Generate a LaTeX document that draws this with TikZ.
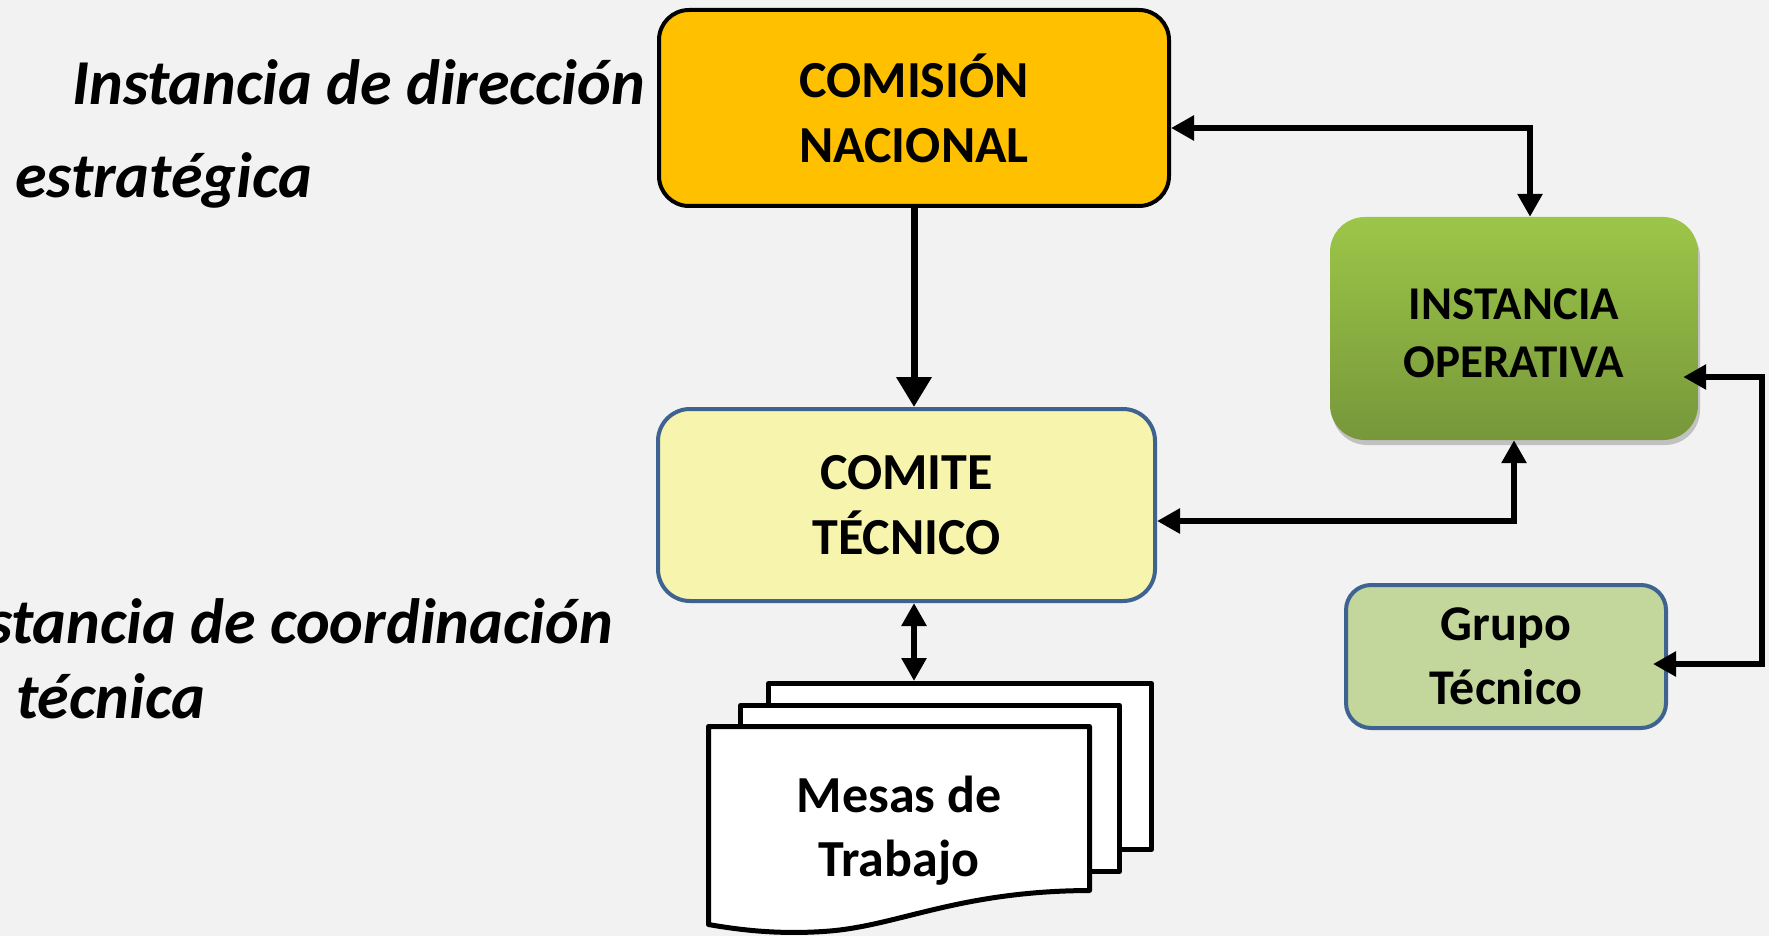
\documentclass[tikz,border=0pt]{standalone}
\usepackage{fontspec}
\setmainfont{Carlito}
\usetikzlibrary{arrows.meta,shadows,calc}
\definecolor{bg}{HTML}{F2F2F2}
\definecolor{comfill}{HTML}{FFC000}
\definecolor{ctfill}{HTML}{F6F4AD}
\definecolor{bluebord}{HTML}{3F6391}
\definecolor{gtfill}{HTML}{C3D69B}
\definecolor{greentop}{HTML}{9CC648}
\definecolor{greenbot}{HTML}{77973A}
\begin{document}
\begin{tikzpicture}[x=1pt,y=-1pt,
  >={Triangle[width=24pt,length=23pt]},
  arr/.style={line width=6.5pt,<->},
  box/.style={rectangle, inner sep=0pt, align=center},
  page/.style={draw=black, fill=white, line width=5pt, rectangle, inner sep=0pt, line join=round},
  lefttext/.style={inner sep=0pt, font=\fontsize{64}{70}\selectfont\bfseries\itshape}]
\fill[bg] (0,0) rectangle (1769,936);
\useasboundingbox (0,0) rectangle (1769,936);

% boxes
\node[box, draw=black, line width=4pt, fill=comfill, rounded corners=30pt,
      minimum width=510pt, minimum height=196pt,
      font=\fontsize{52}{65}\selectfont\bfseries] (com) at (914,108) {COMISIÓN\\NACIONAL};
\node[box, draw=bluebord, line width=4pt, fill=ctfill, rounded corners=32pt,
      minimum width=497pt, minimum height=192pt,
      font=\fontsize{52}{65}\selectfont\bfseries] (comite) at (906.5,505) {COMITE\\TÉCNICO};
\node[box, top color=greentop, bottom color=greenbot, rounded corners=35pt,
      minimum width=368pt, minimum height=223pt,
      drop shadow={shadow xshift=2pt, shadow yshift=-5pt, opacity=0.35, fill=black!60},
      font=\fontsize{47}{58}\selectfont\bfseries] (inst) at (1514,328.5) {\rule{0pt}{40pt}INSTANCIA\\OPERATIVA};
\node[box, draw=bluebord, line width=4pt, fill=gtfill, rounded corners=25pt,
      minimum width=320pt, minimum height=143pt,
      font=\fontsize{50}{64}\selectfont\bfseries] (grupo) at (1506,656.5) {Grupo\\Técnico};

% stacked pages
\node[page, minimum width=383pt, minimum height=166pt] (p3) at (960,766.5) {};
\node[page, minimum width=379pt, minimum height=166pt] (p2) at (930,788.5) {};
\draw[page] (708.5,726.5) -- (1089.5,726.5) -- (1089.5,890.5)
  .. controls (960,891) and (900,925) .. (830,931)
  .. controls (780,935) and (740,930) .. (708.5,924.5) -- cycle;
\node[box, font=\fontsize{52}{64}\selectfont\bfseries] (mesas) at (899,831) {Mesas de\\Trabajo};

% left labels
\node[lefttext, anchor=base west] (l1) at (72,105) {Instancia de dirección};
\node[lefttext, anchor=base west] (l2) at (15,197) {estratégica};
\node[lefttext, anchor=base east] (l3) at (613,643) {Instancia de coordinación};
\node[lefttext, anchor=base west] (l4) at (16,718) {técnica};

% connectors
\coordinate (a1) at (914,0);
\draw[line width=7pt, -{Triangle[width=34pt,length=30pt]}] (com.south -| a1) -- (comite.north -| a1);
\coordinate (k1) at (1530,128);
\draw[arr] (com.east |- k1) -- (k1) -- (k1 |- inst.north);
\coordinate (k2) at (1514,521);
\draw[arr] (comite.east |- k2) -- (k2) -- (k2 |- inst.south);
\coordinate (k3) at (1762,377);
\coordinate (k4) at (1762,664);
\draw[arr] ($(inst.east |- k3)+(-15,0)$) -- (k3) -- (k4) -- ($(grupo.east |- k4)+(-15,0)$);
\draw[arr] (comite.south -| a1) -- (p3.north -| a1);
\end{tikzpicture}
\end{document}
